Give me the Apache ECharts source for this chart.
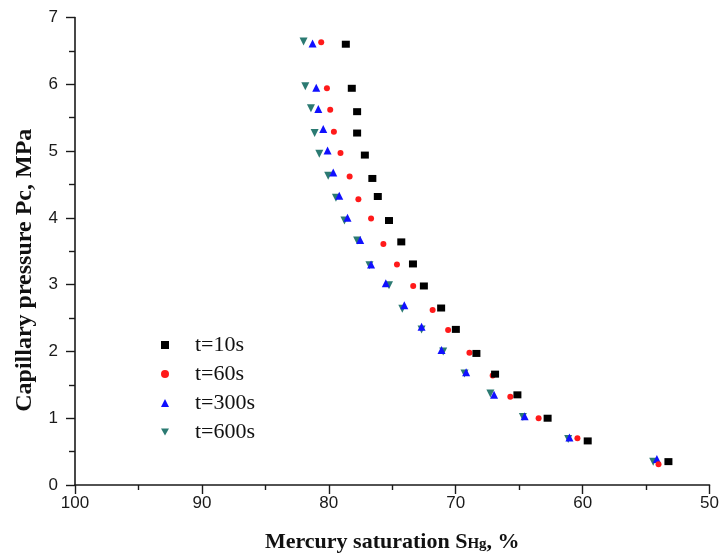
<!DOCTYPE html>
<html>
<head>
<meta charset="utf-8">
<script src="https://cdn.jsdelivr.net/npm/echarts@6/dist/echarts.min.js"></script>
<style>
  html, body { margin: 0; padding: 0; background: #fff; }
  #chart { width: 722px; height: 558px; }
</style>
</head>
<body>
<div id="chart"></div>
<script>
// Mercury injection capillary pressure curves at four equilibration times.
// Each series: [mercury saturation S_Hg (%), capillary pressure Pc (MPa)]
const seriesNames = ['t=10s', 't=60s', 't=300s', 't=600s'];

const sat10 = [78.66, 78.19, 77.77, 77.77, 77.16, 76.57, 76.14, 75.26, 74.29, 73.37, 72.51, 71.15, 69.99, 68.37, 66.90, 65.14, 62.76, 59.60, 53.24];
const pc10  = [6.60, 5.94, 5.59, 5.27, 4.94, 4.59, 4.32, 3.96, 3.64, 3.31, 2.98, 2.65, 2.33, 1.97, 1.66, 1.35, 1.00, 0.66, 0.35];

const sat60 = [80.60, 80.15, 79.89, 79.60, 79.08, 78.36, 77.67, 76.67, 75.70, 74.63, 73.35, 71.82, 70.60, 68.92, 67.09, 65.70, 63.47, 60.41, 54.02];
const pc60  = [6.63, 5.94, 5.62, 5.29, 4.97, 4.62, 4.28, 3.99, 3.61, 3.30, 2.98, 2.62, 2.32, 1.98, 1.64, 1.32, 1.00, 0.70, 0.31];

const sat300 = [81.28, 80.99, 80.83, 80.44, 80.10, 79.65, 79.18, 78.53, 77.53, 76.67, 75.51, 74.05, 72.69, 71.12, 69.18, 66.98, 64.57, 61.04, 54.15];
const pc300  = [6.61, 5.95, 5.63, 5.33, 5.01, 4.68, 4.33, 4.00, 3.67, 3.30, 3.02, 2.69, 2.37, 2.02, 1.69, 1.35, 1.03, 0.71, 0.39];

const sat600 = [81.99, 81.85, 81.41, 81.12, 80.75, 80.05, 79.44, 78.77, 77.77, 76.80, 75.26, 74.21, 72.69, 70.99, 69.31, 67.27, 64.71, 61.14, 54.44];
const pc600  = [6.64, 5.97, 5.64, 5.27, 4.96, 4.63, 4.30, 3.96, 3.66, 3.29, 2.99, 2.64, 2.33, 2.00, 1.67, 1.37, 1.02, 0.69, 0.35];

const xTicks = [100, 90, 80, 70, 60, 50];
const yTicks = [0, 1, 2, 3, 4, 5, 6, 7];

const pairs = (xs, ys) => xs.map((x, i) => [x, ys[i]]);

const downTriangle = 'path://M0,0L10,0L5,9Z';
const styles = [
  { color: '#000000', symbol: 'rect', size: [8, 7] },
  { color: '#ff1a1a', symbol: 'circle', size: 6 },
  { color: '#1010ff', symbol: 'triangle', size: 8 },
  { color: '#2b7a72', symbol: downTriangle, size: 8 }
];
const dataSets = [pairs(sat10, pc10), pairs(sat60, pc60), pairs(sat300, pc300), pairs(sat600, pc600)];

const axisFont = { fontFamily: 'Liberation Sans', fontSize: 17, color: '#1a1a1a' };

const chart = echarts.init(document.getElementById('chart'), null, { renderer: 'canvas' });
chart.setOption({
  animation: false,
  backgroundColor: '#ffffff',
  grid: { left: 75, right: 10, top: 17.5, bottom: 73, containLabel: false },
  legend: {
    orient: 'vertical',
    left: 156,
    top: 329,
    itemWidth: 8,
    itemHeight: 8,
    itemGap: 7,
    data: seriesNames,
    textStyle: {
      fontFamily: 'Liberation Serif', fontSize: 22, lineHeight: 22, color: '#111',
      padding: [0, 0, 0, 21]
    }
  },
  xAxis: {
    type: 'value',
    inverse: true,
    min: 50,
    max: 100,
    interval: 10,
    name: '{a|Mercury saturation S}{b|Hg}{a|, %}',
    nameLocation: 'middle',
    nameGap: 46,
    nameTextStyle: {
      rich: {
        a: { fontFamily: 'Liberation Serif', fontWeight: 'bold', fontSize: 22, color: '#111', verticalAlign: 'bottom' },
        b: { fontFamily: 'Liberation Serif', fontWeight: 'bold', fontSize: 15, color: '#111', verticalAlign: 'bottom', padding: [0, 0, 1, 0] }
      }
    },
    axisLine: { show: true, onZero: false, lineStyle: { color: '#1a1a1a', width: 1.6 } },
    axisTick: { show: true, inside: false, length: 9, lineStyle: { color: '#1a1a1a', width: 1.4 } },
    minorTick: { show: true, splitNumber: 2, length: 5, lineStyle: { color: '#1a1a1a', width: 1.4 } },
    axisLabel: Object.assign({ margin: 10, formatter: v => (xTicks.includes(v) ? String(v) : '') }, axisFont),
    splitLine: { show: false }
  },
  yAxis: {
    type: 'value',
    min: 0,
    max: 7,
    interval: 1,
    name: 'Capillary pressure Pc, MPa',
    nameLocation: 'middle',
    nameGap: 38,
    nameRotate: 90,
    nameTextStyle: {
      fontFamily: 'Liberation Serif', fontWeight: 'bold', fontSize: 24, color: '#111',
      padding: [0, 38, 0, 0]
    },
    axisLine: { show: true, onZero: false, lineStyle: { color: '#1a1a1a', width: 1.6 } },
    axisTick: { show: true, inside: false, length: 9, lineStyle: { color: '#1a1a1a', width: 1.4 } },
    minorTick: { show: true, splitNumber: 2, length: 6, lineStyle: { color: '#1a1a1a', width: 1.4 } },
    axisLabel: Object.assign({ margin: 17, formatter: v => (yTicks.includes(v) ? String(v) : '') }, axisFont),
    splitLine: { show: false }
  },
  series: dataSets.map((d, i) => ({
    name: seriesNames[i],
    type: 'scatter',
    data: d,
    symbol: styles[i].symbol,
    symbolSize: styles[i].size,
    itemStyle: { color: styles[i].color, opacity: 1 },
    z: 2 + (3 - i)
  }))
});
</script>
</body>
</html>
